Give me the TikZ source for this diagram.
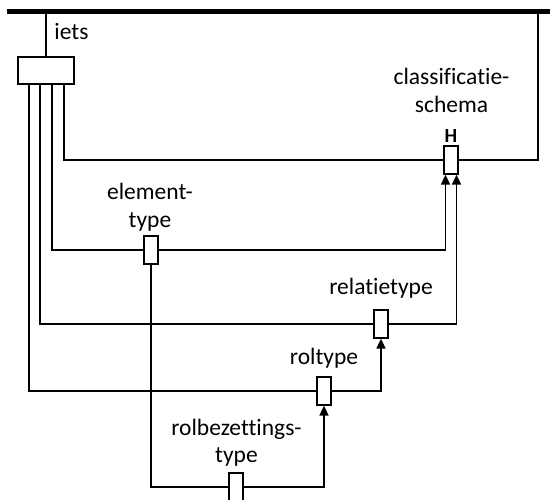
\documentclass[tikz,border=0pt]{standalone}
\usepackage{fontspec}
\setmainfont[Ligatures=NoCommon]{Carlito}
\usetikzlibrary{arrows.meta,backgrounds}
\begin{document}
\begin{tikzpicture}[x=1pt,y=-1pt,
  box/.style={draw,fill=white,line width=1.3pt,minimum width=14pt,minimum height=28pt,inner sep=0pt},
  lbl/.style={font=\fontsize{23.5}{28}\selectfont,inner sep=0pt,align=center},
  link/.style={line width=1.4pt},
  arr/.style={line width=1.7pt,-{Triangle[length=10pt,width=9pt]}}]
\useasboundingbox (0,0) rectangle (550,500);
\coordinate (barL) at (7,11.5);
\coordinate (barR) at (550,11.5);
\coordinate (corner) at (538,11.5);
\node[box,minimum width=56pt,minimum height=27pt] (iets) at (46,70.5) {};
\node[box] (H) at (451,160) {};
\node[box] (elem) at (151,250) {};
\node[box] (relt) at (381,324) {};
\node[box] (rolt) at (324,391) {};
\node[box] (rolb) at (236,487) {};
\node[lbl,anchor=base] (tiets) at (71.5,40) {iets};
\node[lbl,anchor=base] (tcls) at (451.5,113) {classificatie-\\schema};
\node[lbl,anchor=base,font=\fontsize{20}{24}\selectfont\bfseries] (tH) at (451,143) {H};
\node[lbl,anchor=base] (telem) at (150,228) {element-\\type};
\node[lbl,anchor=base] (trelt) at (381,295) {relatietype};
\node[lbl,anchor=base] (trolt) at (324,365) {roltype};
\node[lbl,anchor=base] (trolb) at (236.5,463) {rolbezettings-\\type};
\begin{scope}[on background layer]
\draw[line width=5pt] (barL) -- (barR);
\draw[link] (iets.north) -- (iets.north |- barL);
\draw[link] ([xshift=18pt]iets.south) |- (H.west);
\draw[link] (H.east) -| (corner);
\draw[link] ([xshift=6pt]iets.south) |- (elem.west);
\draw[link] ([xshift=-6pt]iets.south) |- (relt.west);
\draw[link] ([xshift=-17pt]iets.south) |- (rolt.west);
\draw[link] (elem.south) |- (rolb.west);
\draw[arr] (elem.east) -| ([xshift=-5.5pt]H.south);
\draw[arr] (relt.east) -| ([xshift=5.5pt]H.south);
\draw[arr] (rolt.east) -| (relt.south);
\draw[arr] (rolb.east) -| (rolt.south);
\end{scope}
\end{tikzpicture}
\end{document}
